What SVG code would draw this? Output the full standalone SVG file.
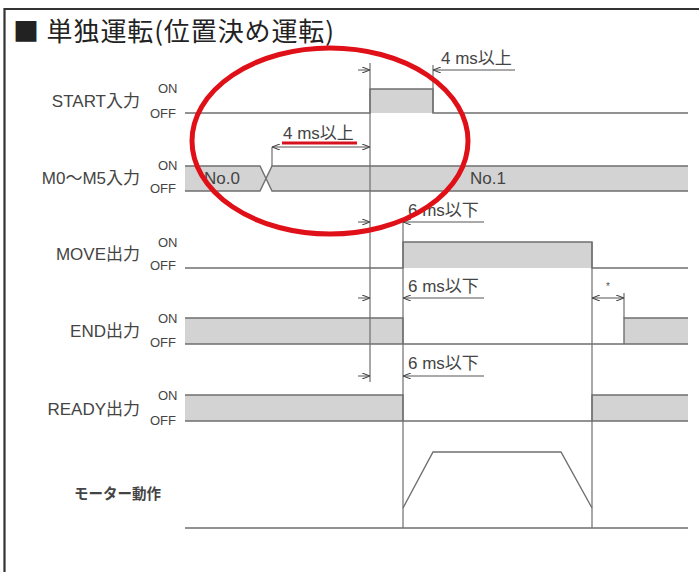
<svg xmlns="http://www.w3.org/2000/svg" width="699" height="572" viewBox="0 0 699 572">
<defs>
<style>
.sig{fill:none;stroke:#6f6f6f;stroke-width:1.4}
.band{fill:#d3d3d3;stroke:none}
.vl{fill:none;stroke:#6f6f6f;stroke-width:1.2}
.dim{fill:none;stroke:#555;stroke-width:1}
.lbl{font-family:"Liberation Sans","Noto Sans CJK JP",sans-serif;font-size:17px;fill:#444}
.oo{font-family:"Liberation Sans",sans-serif;font-size:13px;fill:#444}
.dt{font-family:"Liberation Sans","Noto Sans CJK JP",sans-serif;font-size:17px;fill:#444}
</style>
<marker id="ar" viewBox="0 0 8 6" refX="8" refY="3" markerWidth="8" markerHeight="6" orient="auto-start-reverse" markerUnits="userSpaceOnUse">
<path d="M0,0 L8,3 L0,6" fill="none" stroke="#444" stroke-width="1.1"/>
</marker>
</defs>
<rect width="699" height="572" fill="#fff"/>
<g id="frame">
<path d="M4.5,572 V9 H699" fill="none" stroke="#333" stroke-width="2.2"/>
</g>
<g id="title">
<text x="13" y="41" font-family="'Noto Sans CJK JP',sans-serif" font-size="26" fill="#222" textLength="321" lengthAdjust="spacing">■ 単独運転(位置決め運転)</text>
</g>
<g id="start">
<rect class="band" x="370" y="89" width="63" height="24"/>
<path class="sig" d="M185,113 H370 V89 H433 V113 H688"/>
<text class="lbl" x="140" y="107" text-anchor="end">START入力</text>
<text class="oo" x="158" y="93">ON</text>
<text class="oo" x="150" y="118">OFF</text>
</g>
<g id="m0m5">
<polygon class="band" points="185,166 260,166 266,178.5 260,191 185,191"/>
<polygon class="band" points="272,166 688,166 688,191 272,191 266,178.5"/>
<path class="sig" d="M185,166 H260 L272,191 H688 M185,191 H260 L272,166 H688"/>
<text class="lbl" x="140" y="184" text-anchor="end">M0～M5入力</text>
<text class="oo" x="158" y="170">ON</text>
<text class="oo" x="150" y="193">OFF</text>
<text class="lbl" x="204" y="184">No.0</text>
<text class="lbl" x="470" y="184">No.1</text>
</g>
<g id="move">
<rect class="band" x="403" y="242" width="189" height="26"/>
<path class="sig" d="M185,268 H403 V242 H592 V268 H688"/>
<text class="lbl" x="140" y="260" text-anchor="end">MOVE出力</text>
<text class="oo" x="158" y="247">ON</text>
<text class="oo" x="150" y="270">OFF</text>
</g>
<g id="end">
<rect class="band" x="185" y="318" width="218" height="26"/>
<rect class="band" x="624" y="318" width="64" height="26"/>
<path class="sig" d="M185,318 H403 V344 H624 V318 H688 M185,344 H403 M624,344 H688"/>
<text class="lbl" x="140" y="337" text-anchor="end">END出力</text>
<text class="oo" x="158" y="323">ON</text>
<text class="oo" x="150" y="347">OFF</text>
</g>
<g id="ready">
<rect class="band" x="185" y="395" width="218" height="26"/>
<rect class="band" x="592" y="395" width="96" height="26"/>
<path class="sig" d="M185,395 H403 V421 H592 V395 H688 M185,421 H403 M592,421 H688"/>
<text class="lbl" x="140" y="415" text-anchor="end">READY出力</text>
<text class="oo" x="158" y="400">ON</text>
<text class="oo" x="150" y="425">OFF</text>
</g>
<g id="motor">
<path class="sig" d="M185,528 H688 M403,508 L433,452 H561 L592,508"/>
<text x="161" y="499" text-anchor="end" font-family="'Noto Sans CJK JP',sans-serif" font-size="14.5" font-weight="bold" fill="#444">モーター動作</text>
</g>
<g id="connectors">
<path class="vl" d="M370,63 V382 M403,222 V528 M592,242 V528 M433,65 V113 M272,147 V166 M624,293 V318"/>
<path class="dim" d="M358,70 H370" marker-end="url(#ar)"/>
<path class="dim" d="M433,70 H515" marker-start="url(#ar)"/>
<path class="dim" d="M272,147 H370" marker-start="url(#ar)" marker-end="url(#ar)"/>
<path class="dim" d="M358,222 H370" marker-end="url(#ar)"/>
<path class="dim" d="M403,222 H484" marker-start="url(#ar)"/>
<path class="dim" d="M358,298 H370" marker-end="url(#ar)"/>
<path class="dim" d="M403,298 H484" marker-start="url(#ar)"/>
<path class="dim" d="M592,298 H624" marker-start="url(#ar)" marker-end="url(#ar)"/>
<path class="dim" d="M358,376 H370" marker-end="url(#ar)"/>
<path class="dim" d="M403,376 H484" marker-start="url(#ar)"/>
</g>
<g id="dimlabels">
<text class="dt" x="441" y="64">4 ms以上</text>
<text class="dt" x="283" y="139">4 ms以上</text>
<text class="dt" x="408" y="216">6 ms以下</text>
<text class="dt" x="408" y="292">6 ms以下</text>
<text class="dt" x="408" y="369">6 ms以下</text>
<text x="608" y="290" text-anchor="middle" font-family="'Liberation Sans',sans-serif" font-size="10" fill="#555">*</text>
</g>
<g id="highlight">
<path d="M282,143 H357" stroke="#d8121c" stroke-width="3" fill="none"/>
<ellipse cx="330" cy="141" rx="138" ry="93" fill="none" stroke="#e01018" stroke-width="5"/>
</g>
</svg>
